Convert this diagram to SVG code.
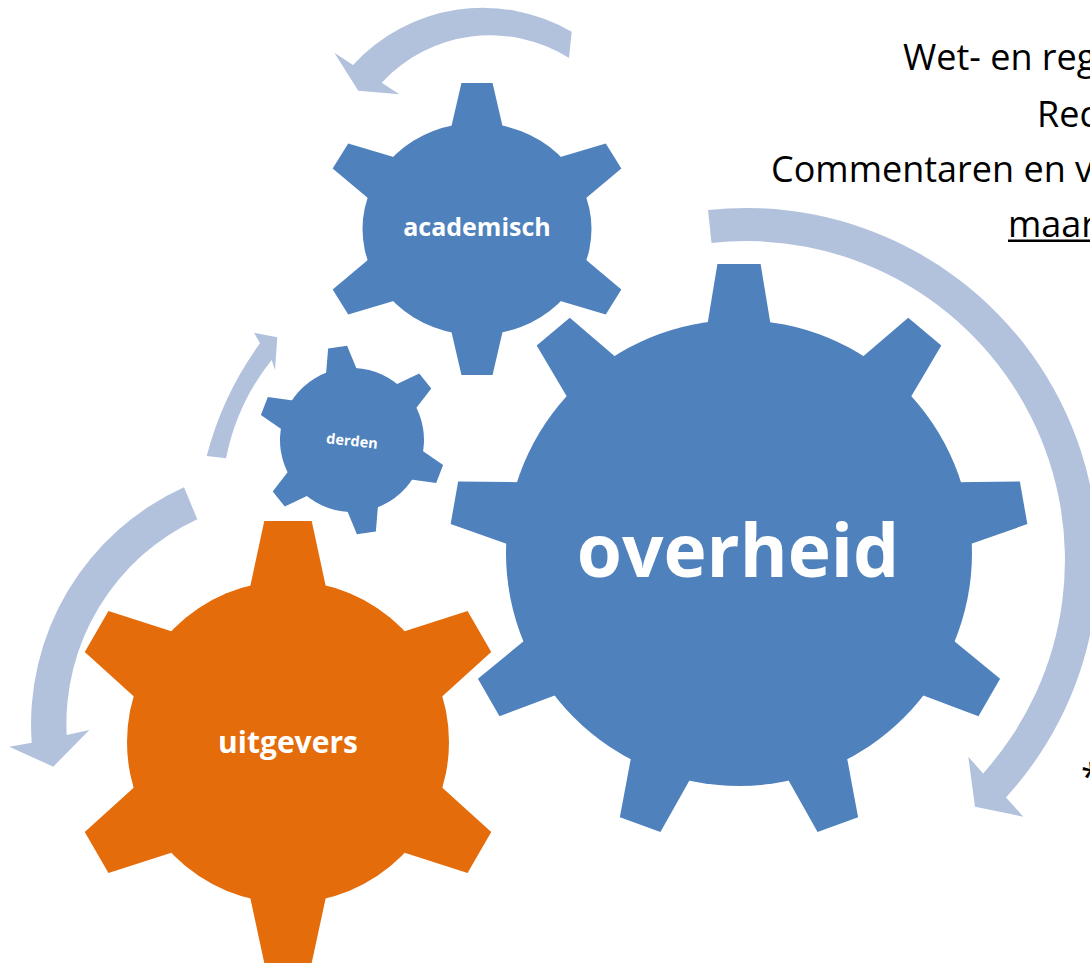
<svg xmlns="http://www.w3.org/2000/svg" xmlns:xlink="http://www.w3.org/1999/xlink" width="1090" height="963" viewBox="0 0 1090 963">
<style>
.blue{fill:#4F81BD}
.orange{fill:#E46C0A}
.arrow{fill:#B2C2DD}
.lbl{font-family:"Open Sans","Noto Sans",sans-serif;font-weight:700;fill:#FFFFFF;text-anchor:middle}
.note{font-family:"Open Sans","Noto Sans",sans-serif;font-size:36px;fill:#000000}
</style>
<defs>
<polygon id="tooth-o" points="-32,-226 -21.6,-289 21.6,-289 32,-226"/>
<polygon id="tooth-u" points="-39,-150 -23.7,-221 23.7,-221 39,-150"/>
<polygon id="tooth-a" points="-24.7,-98 -14.4,-146 14.4,-146 24.7,-98"/>
<polygon id="tooth-d" points="-16.8,-64 -9.6,-94 9.6,-94 16.8,-64"/>
</defs>
<rect width="1090" height="963" fill="#FFFFFF"/>
<g id="connectors">
<path class="arrow" d="M571.7,31.7 A176.6,176.6 0 0 0 353,65 L334.3,52.7 L358.3,90.7 L399.3,94.3 L381.7,82.7 A148,148 0 0 1 569,58 Z"/>
<path class="arrow" d="M708,210 A352,352 0 0 1 1006,797.4 L1023.3,816.7 L975,806.7 L968.3,756.7 L983.1,773.4 A319,319 0 0 0 711.5,242.9 Z"/>
<path class="arrow" d="M184,487.3 A260,260 0 0 0 31.7,742.7 L9.3,746.7 L53.3,766.7 L89.3,730 L66.7,735 A225,225 0 0 1 197.3,519.3 Z"/>
<path class="arrow" d="M206.7,456 Q222.6,394.4 260,343.3 L254,332.7 L277.3,337.3 L275,370 L271.7,360 Q237.2,402.8 226,458.3 Z"/>
</g>
<g id="gear-academisch" class="blue">
<g transform="translate(477,229) scale(1.08,1)">
<circle r="106"/>
<use xlink:href="#tooth-a"/>
<use xlink:href="#tooth-a" transform="rotate(60)"/>
<use xlink:href="#tooth-a" transform="rotate(120)"/>
<use xlink:href="#tooth-a" transform="rotate(180)"/>
<use xlink:href="#tooth-a" transform="rotate(240)"/>
<use xlink:href="#tooth-a" transform="rotate(300)"/>
</g>
<text class="lbl" x="477" y="236" font-size="25">academisch</text>
</g>
<g id="gear-derden" class="blue">
<g transform="translate(352,440) rotate(-8.8)">
<circle r="72"/>
<use xlink:href="#tooth-d"/>
<use xlink:href="#tooth-d" transform="rotate(60)"/>
<use xlink:href="#tooth-d" transform="rotate(120)"/>
<use xlink:href="#tooth-d" transform="rotate(180)"/>
<use xlink:href="#tooth-d" transform="rotate(240)"/>
<use xlink:href="#tooth-d" transform="rotate(300)"/>
</g>
<text class="lbl" x="352" y="446" font-size="14.5" transform="rotate(6 352 441)">derden</text>
</g>
<g id="gear-overheid" class="blue">
<g transform="translate(739,553)">
<circle r="233"/>
<use xlink:href="#tooth-o"/>
<use xlink:href="#tooth-o" transform="rotate(40)"/>
<use xlink:href="#tooth-o" transform="rotate(80)"/>
<use xlink:href="#tooth-o" transform="rotate(120)"/>
<use xlink:href="#tooth-o" transform="rotate(160)"/>
<use xlink:href="#tooth-o" transform="rotate(200)"/>
<use xlink:href="#tooth-o" transform="rotate(240)"/>
<use xlink:href="#tooth-o" transform="rotate(280)"/>
<use xlink:href="#tooth-o" transform="rotate(320)"/>
</g>
<text class="lbl" x="738" y="577" font-size="73">overheid</text>
</g>
<g id="gear-uitgevers" class="orange">
<g transform="translate(288,742)">
<circle r="161"/>
<use xlink:href="#tooth-u"/>
<use xlink:href="#tooth-u" transform="rotate(60)"/>
<use xlink:href="#tooth-u" transform="rotate(120)"/>
<use xlink:href="#tooth-u" transform="rotate(180)"/>
<use xlink:href="#tooth-u" transform="rotate(240)"/>
<use xlink:href="#tooth-u" transform="rotate(300)"/>
</g>
<text class="lbl" x="288" y="753" font-size="30">uitgevers</text>
</g>
<g id="notes">
<text class="note" x="903" y="70">Wet- en reg</text>
<text class="note" x="1037" y="126.5">Rec</text>
<text class="note" x="771" y="182">Commentaren en v</text>
<text class="note" x="1008" y="237">maar</text>
<rect x="1008" y="239.5" width="82" height="2.5" fill="#000000"/>
<text class="note" x="1081" y="789">*</text>
</g>
</svg>
